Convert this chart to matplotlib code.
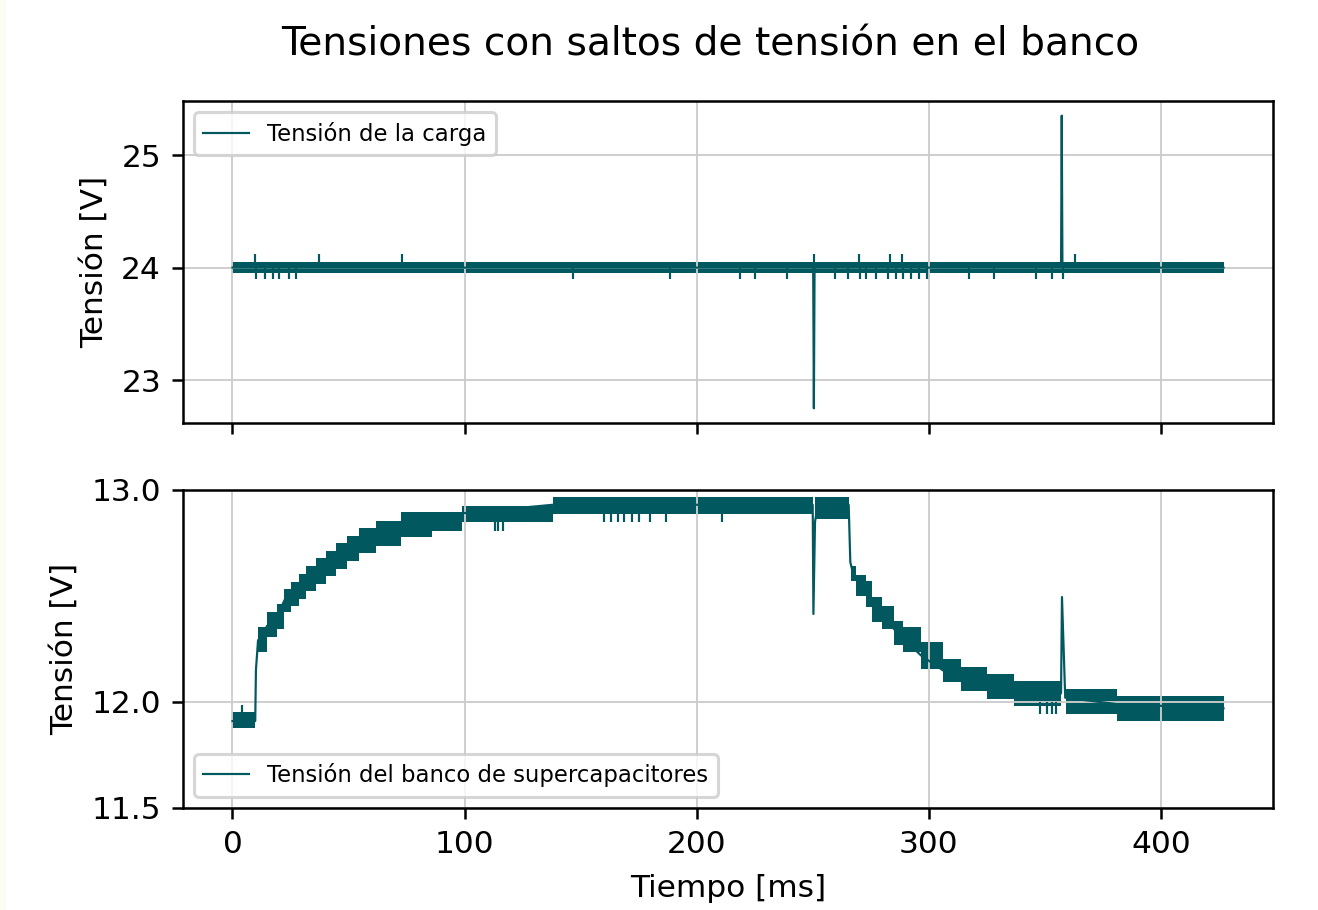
import numpy as np
import matplotlib
matplotlib.use('Agg')
import matplotlib.pyplot as plt
from matplotlib.patches import Rectangle

# ====================== datos ======================
line_color = '#02585f'

# Tensión de la carga (24 V) -- línea base y dos saltos grandes
load_t = [0.0, 250.2, 250.5, 250.8, 357.0, 357.3, 357.6, 427.0]
load_v = [24.0, 24.0, 22.75, 24.0, 24.0, 25.35, 24.0, 24.0]
# banda de ruido de cuantización (mín / máx)
load_band_t = [0.0, 427.0]
load_band_lo = [23.955, 23.955]
load_band_hi = [24.053, 24.053]
# pequeños picos hacia arriba y hacia abajo
load_up_t = [9.9, 37.2, 72.9, 250.6, 270.0, 283.5, 288.6, 362.9]
load_up_v = 24.12
load_dn_t = [10.2, 13.8, 17.3, 20.2, 24.5, 27.4, 146.9, 188.4, 218.5, 225.3, 239.0,
             259.4, 265.3, 270.4, 272.9, 277.2, 282.3, 285.7, 289.1, 292.5, 295.9,
             299.3, 317.2, 328.2, 346.1, 352.9, 358.0]
load_dn_v = 23.90

# Tensión del banco de supercapacitores -- curva central
bank_t = [0, 9.8, 10.1, 11.0, 15, 19, 22.4, 25.3, 28.8, 31.6, 36, 40.4, 44.7, 49.5,
          54.7, 62, 72.7, 86, 99, 138, 250.0, 250.3, 251.0, 252.0, 265.5, 266.2,
          267.5, 273, 280, 289, 296.6, 306, 314, 325, 336.6, 357.0, 357.4, 358.8,
          381, 427]
bank_v = [11.91, 11.91, 12.15, 12.29, 12.36, 12.40, 12.48, 12.51, 12.54, 12.58, 12.62,
          12.65, 12.69, 12.72, 12.76, 12.80, 12.84, 12.85, 12.89, 12.93, 12.93, 12.415,
          12.85, 12.92, 12.93, 12.66, 12.60, 12.51, 12.40, 12.30, 12.22, 12.15, 12.11,
          12.07, 12.04, 12.04, 12.495, 12.02, 11.99, 11.97]
# escalones de la banda de ruido (inicio de cada escalón, mín, máx)
bank_step_t = [0, 9.8, 11.0, 15.0, 19.0, 22.4, 25.3, 28.8, 31.6, 36.0, 40.4, 44.7,
               49.5, 54.7, 62.0, 72.7, 86.0, 99.0, 138.0, 250.0, 251.0, 265.5, 266.5,
               268.6, 273.0, 275.5, 280.0, 285.0, 289.0, 296.6, 306.0, 314.0, 325.0,
               336.6, 357.0, 359.0, 381.0, 427.0]
bank_step_lo = [11.875, 11.92, 12.236, 12.307, 12.344, 12.425, 12.453, 12.486, 12.524,
                12.557, 12.594, 12.627, 12.665, 12.703, 12.736, 12.778, 12.807, 12.849,
                12.887, 12.90, 12.863, 12.66, 12.57, 12.50, 12.45, 12.377, 12.344,
                12.27, 12.236, 12.156, 12.094, 12.052, 12.014, 11.98, 12.02, 11.943,
                11.912, 11.912]
bank_step_hi = [11.952, 11.92, 12.354, 12.425, 12.462, 12.533, 12.566, 12.604, 12.641,
                12.679, 12.712, 12.75, 12.783, 12.821, 12.854, 12.896, 12.896, 12.925,
                12.967, 12.90, 12.967, 12.66, 12.64, 12.60, 12.57, 12.495, 12.453,
                12.38, 12.354, 12.283, 12.203, 12.165, 12.132, 12.099, 12.02, 12.061,
                12.03, 12.03]
# pequeños picos (tiempo, base, punta)
bank_gl_t = [3.9, 113.0, 114.5, 116.5, 160, 163, 166, 168.5, 172, 175, 180, 187, 211,
             348, 351, 353, 355]
bank_gl_base = [11.93, 12.88, 12.88, 12.88, 12.92, 12.92, 12.92, 12.92, 12.92, 12.92,
                12.92, 12.92, 12.92, 12.0, 12.0, 12.0, 12.0]
bank_gl_tip = [11.985, 12.807, 12.807, 12.807, 12.85, 12.85, 12.85, 12.85, 12.85, 12.85,
               12.85, 12.85, 12.85, 11.943, 11.943, 11.943, 11.943]

# ====================== figura ======================
plt.rcParams['font.size'] = 10
dpi = 225
fig = plt.figure(figsize=(1318 / dpi, 910 / dpi), dpi=dpi)
fig.patches.append(Rectangle((0, 0), 6 / 1318, 1, transform=fig.transFigure,
                             facecolor='#fcfbf4', edgecolor='none', zorder=-1))

ax1 = fig.add_axes([0.1388, 0.5352, 0.8271, 0.3538])
ax2 = fig.add_axes([0.1388, 0.1121, 0.8271, 0.3495], sharex=ax1)

lw = 0.7

# --- carga ---
ax1.plot(load_t, load_v, color=line_color, lw=lw, label='Tensión de la carga')
ax1.fill_between(load_band_t, load_band_lo, load_band_hi, color=line_color, lw=0)
ax1.vlines(load_up_t, 24.0, load_up_v, color=line_color, lw=lw)
ax1.vlines(load_dn_t, 24.0, load_dn_v, color=line_color, lw=lw)
ax1.set_ylabel('Tensión [V]')
ax1.set_yticks([23, 24, 25])
ax1.grid(True, color='#cccccc', lw=0.6)
ax1.legend(loc='upper left', fontsize=7.3)
ax1.tick_params(labelbottom=False)

# --- banco ---
ax2.plot(bank_t, bank_v, color=line_color, lw=lw,
         label='Tensión del banco de supercapacitores')
ax2.fill_between(bank_step_t, bank_step_lo, bank_step_hi, step='post',
                 color=line_color, lw=0)
ax2.vlines(bank_gl_t, bank_gl_base, bank_gl_tip, color=line_color, lw=lw)
ax2.set_ylim(11.5, 13.0)
ax2.set_yticks([11.5, 12.0, 13.0])
ax2.set_ylabel('Tensión [V]')
ax2.set_xlabel('Tiempo [ms]', labelpad=5)
ax2.grid(True, color='#cccccc', lw=0.6)
ax2.legend(loc='lower left', fontsize=7.3)

ax1.set_xticks([0, 100, 200, 300, 400])

fig.suptitle('Tensiones con saltos de tensión en el banco', fontsize=12.5,
             x=710 / 1318, y=0.972)

plt.savefig('out.png', dpi=dpi)
